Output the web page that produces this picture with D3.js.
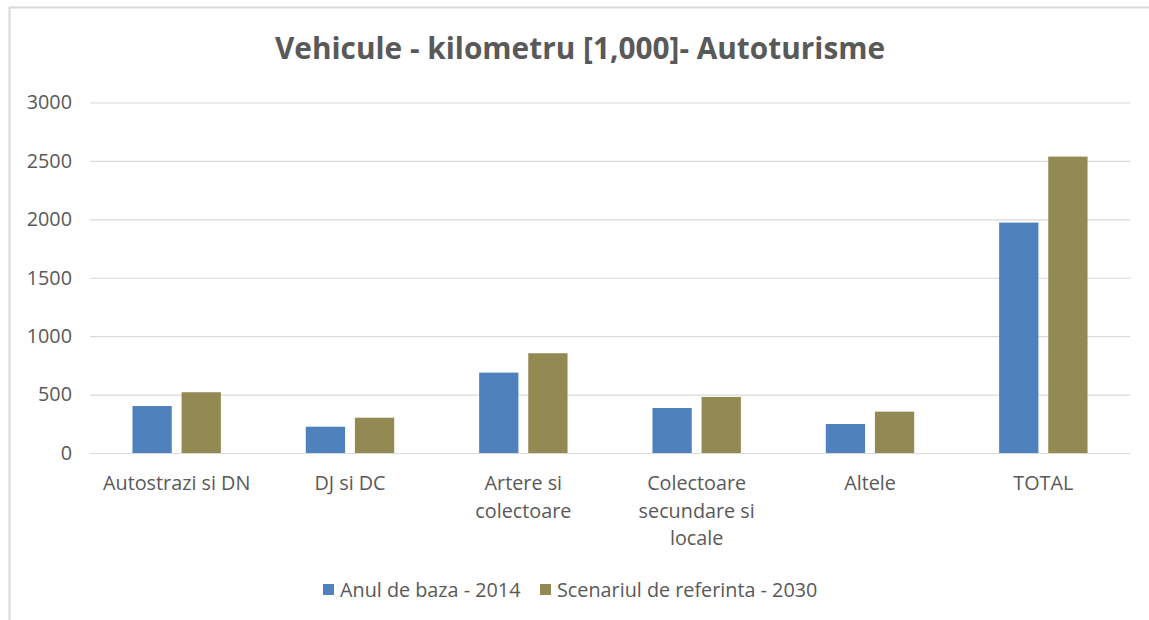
<!DOCTYPE html>
<html>
<head>
<meta charset="utf-8">
<script src="https://cdn.jsdelivr.net/npm/d3@7"></script>
<style>
  html, body { margin: 0; padding: 0; background: #ffffff; }
  svg { display: block; }
  text { font-family: "Open Sans", Lato, sans-serif; fill: #595959; }
</style>
</head>
<body>
<svg id="chart" width="1149" height="620"></svg>
<script>
// Vehicle-kilometres for passenger cars, by road class
const categories = ["Autostrazi si DN", "DJ si DC", "Artere si colectoare", "Colectoare secundare si locale", "Altele", "TOTAL"];
const seriesNames = ["Anul de baza - 2014", "Scenariul de referinta - 2030"];
const base2014 = [402, 225, 688, 385, 248, 1972];
const reference2030 = [520, 302, 854, 480, 354, 2537];
const yTicks = [0, 500, 1000, 1500, 2000, 2500, 3000];
const colors = ["#4f81bd", "#938953"];
const title = "Vehicule - kilometru [1,000]- Autoturisme";

const rows = categories.map((c, i) => ({ category: c, values: [base2014[i], reference2030[i]] }));

const svg = d3.select("#chart");
const W = 1149, H = 620;
const plot = { left: 90, right: 1130, top: 102.5, bottom: 453 };
const FONT = "\"Open Sans\", Lato, sans-serif";
const LABEL_SIZE = "19.8px";

// chart frame
svg.append("rect")
  .attr("x", 9.5).attr("y", 7.5)
  .attr("width", W + 10).attr("height", H + 10)
  .attr("fill", "#ffffff").attr("stroke", "#d9d9d9").attr("stroke-width", 2);

const x = d3.scaleBand().domain(categories).range([plot.left, plot.right])
  .paddingInner(0.49).paddingOuter(0.245);
const xs = d3.scaleBand().domain(seriesNames).range([0, x.bandwidth()]).paddingInner(0.2);
const y = d3.scaleLinear().domain([0, 3000]).range([plot.bottom, plot.top]);

// title
svg.append("text")
  .attr("x", 580).attr("y", 59)
  .attr("text-anchor", "middle")
  .style("font-size", "29.8px").style("font-weight", "bold")
  .text(title);

// gridlines + y labels
const yAxis = d3.axisLeft(y).tickValues(yTicks).tickFormat(d3.format("d"))
  .tickSize(-(plot.right - plot.left)).tickPadding(18);
const gy = svg.append("g").attr("transform", `translate(${plot.left},0)`).call(yAxis);
gy.select(".domain").remove();
gy.selectAll(".tick line").attr("stroke", "#d9d9d9").attr("stroke-width", 1.2);
gy.selectAll(".tick text").style("font-size", LABEL_SIZE).style("font-family", FONT).attr("fill", "#595959");

// bars
const groups = svg.append("g").selectAll("g").data(rows).join("g")
  .attr("transform", d => `translate(${x(d.category)},0)`);
groups.selectAll("rect")
  .data(d => d.values.map((v, i) => ({ name: seriesNames[i], value: v, i })))
  .join("rect")
  .attr("x", d => xs(d.name))
  .attr("width", xs.bandwidth())
  .attr("y", d => y(d.value))
  .attr("height", d => y(0) - y(d.value))
  .attr("fill", d => colors[d.i]);

// category labels, wrapped to fit under each group
const xAxis = d3.axisBottom(x).tickSize(0).tickPadding(0);
const gx = svg.append("g").attr("transform", `translate(0,${plot.bottom})`).call(xAxis);
gx.select(".domain").remove();
gx.selectAll(".tick text")
  .style("font-size", LABEL_SIZE).style("font-family", FONT).attr("fill", "#595959")
  .each(function (d) {
    const t = d3.select(this);
    const words = d.split(" ");
    const maxW = 156;
    t.text(null);
    let lines = [], line = [];
    const probe = t.append("tspan");
    words.forEach(w => {
      const test = line.concat(w).join(" ");
      probe.text(test);
      if (probe.node().getComputedTextLength() > maxW && line.length) {
        lines.push(line.join(" "));
        line = [w];
      } else line.push(w);
    });
    lines.push(line.join(" "));
    probe.remove();
    t.attr("dy", null).attr("y", 0);
    lines.forEach((l, k) => {
      t.append("tspan").attr("x", 0).attr("y", 37 + k * 27.5).text(l);
    });
  });

// legend
const legend = svg.append("g").attr("transform", "translate(0,590)");
const lx = [323, 540];
seriesNames.forEach((n, i) => {
  legend.append("rect").attr("x", lx[i]).attr("y", -6).attr("width", 11).attr("height", 11).attr("fill", colors[i]);
  legend.append("text").attr("x", lx[i] + 17).attr("y", 7).style("font-size", LABEL_SIZE).text(n);
});
</script>
</body>
</html>
